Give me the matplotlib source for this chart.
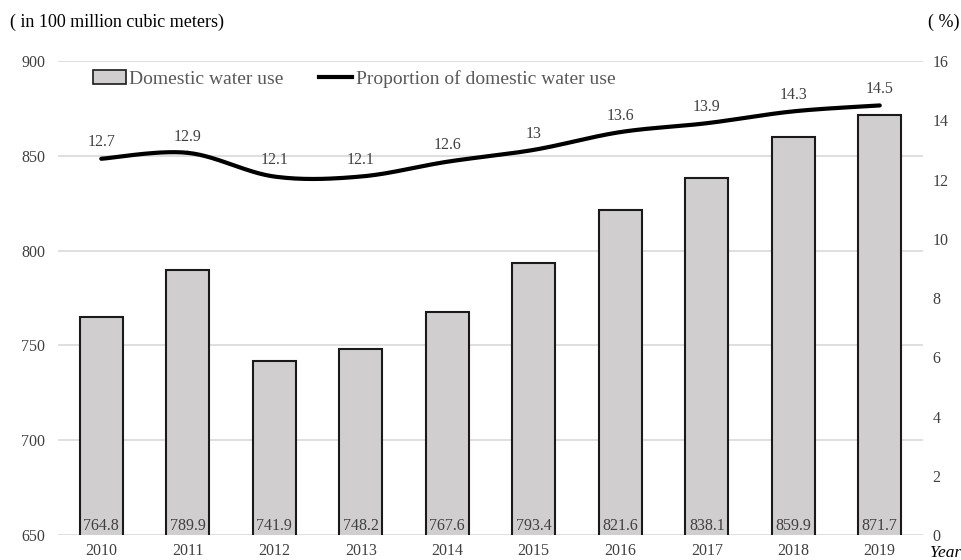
import numpy as np
import matplotlib
matplotlib.use("Agg")
import matplotlib.pyplot as plt
from matplotlib.lines import Line2D
from matplotlib.patches import Patch

years = ["2010", "2011", "2012", "2013", "2014", "2015", "2016", "2017", "2018", "2019"]
water_use = [764.8, 789.9, 741.9, 748.2, 767.6, 793.4, 821.6, 838.1, 859.9, 871.7]
proportion = [12.7, 12.9, 12.1, 12.1, 12.6, 13.0, 13.6, 13.9, 14.3, 14.5]
prop_labels = ["12.7", "12.9", "12.1", "12.1", "12.6", "13", "13.6", "13.9", "14.3", "14.5"]

plt.rcParams['font.family'] = ['Liberation Serif', 'DejaVu Serif']

fig = plt.figure(figsize=(9.62, 5.6), dpi=100)
ax = fig.add_axes([58/962, 25/560, (923-58)/962, (535-61)/560])
ax2 = ax.twinx()

x = np.arange(len(years))
ax.bar(x, water_use, width=0.5, color='#d0cece', edgecolor='#1a1a1a', linewidth=1.5, zorder=3)
ax.set_ylim(650, 900)
ax.set_xlim(-0.5, len(years) - 0.5)
ax.set_yticks(np.arange(650, 901, 50))
ax.yaxis.grid(True, color='#d9d9d9', linewidth=1.2, zorder=0)
ax.set_axisbelow(True)
ax.set_xticks(x)
ax.set_xticklabels(years)
for a in (ax, ax2):
    for s in a.spines.values():
        s.set_visible(False)
    a.tick_params(length=0, labelsize=11.5, colors='#404040')
ax.tick_params(axis='x', pad=6)
ax.tick_params(axis='y', pad=9)
ax2.tick_params(axis='y', pad=7)

for xi, v in zip(x, water_use):
    ax.text(xi, 655.0, f"{v}", ha='center', va='center', fontsize=11.5, color='#404040', zorder=4)

# Smoothed line (Catmull-Rom through the data points)
def catmull(xs, ys, n=30):
    P = list(zip(xs, ys))
    P = [P[0]] + P + [P[-1]]
    outx, outy = [], []
    for i in range(1, len(P) - 2):
        p0, p1, p2, p3 = [np.array(p, float) for p in P[i-1:i+3]]
        t = np.linspace(0, 1, n)[:, None]
        pts = 0.5 * ((2*p1) + (-p0 + p2)*t + (2*p0 - 5*p1 + 4*p2 - p3)*t**2 + (-p0 + 3*p1 - 3*p2 + p3)*t**3)
        outx.extend(pts[:, 0]); outy.extend(pts[:, 1])
    return outx, outy

sx, sy = catmull(x, proportion)
ax2.plot(sx, sy, color='black', linewidth=3, solid_capstyle='round', zorder=5)
ax2.set_ylim(0, 16)
ax2.set_yticks(np.arange(0, 17, 2))
for xi, v, lab in zip(x, proportion, prop_labels):
    ax2.annotate(lab, (xi, v), xytext=(0, 6), textcoords='offset points',
                 ha='center', va='bottom', fontsize=11.5, color='#404040')

fig.text(10/962, 1 - 22/560, "( in 100 million cubic meters)", fontsize=13, color='black', va='center', ha='left')
fig.text(960/962, 1 - 22/560, "( %)", fontsize=13, color='black', va='center', ha='right')
fig.text(946/962, 1 - 553/560, "Year", fontsize=12.5, style='italic', color='black', va='center', ha='center')

handles = [Patch(facecolor='#d0cece', edgecolor='#1a1a1a', linewidth=1.2),
           Line2D([0], [0], color='black', linewidth=3)]
leg = fig.legend(handles, ["Domestic water use", "Proportion of domestic water use"],
                 loc='center', bbox_to_anchor=(354/962, 1 - 79/560), ncol=2, frameon=False,
                 fontsize=14, handlelength=1.7, handletextpad=0.2, columnspacing=1.8,
                 labelcolor='#595959')

fig.savefig("out.png", dpi=100)
